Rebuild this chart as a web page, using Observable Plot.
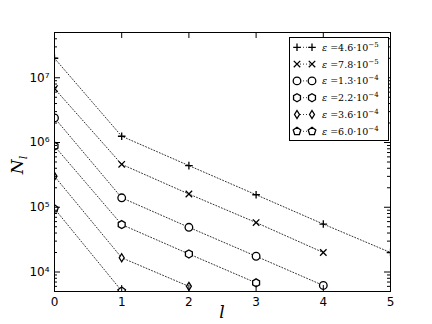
<!DOCTYPE html>
<html><head><meta charset="utf-8">
<script src="https://cdn.jsdelivr.net/npm/d3@7"></script>
<script src="https://cdn.jsdelivr.net/npm/@observablehq/plot@0.6"></script>
<style>body{margin:0;background:#fff}#c{width:432px;height:324px}</style>
</head><body><div id="c"></div>
<script>
// ---- data ----
const levels = [0, 1, 2, 3, 4, 5];
const epsMant = ["4.6", "7.8", "1.3", "2.2", "3.6", "6.0"];
const epsExp = ["5", "5", "4", "4", "4", "4"];
const N1 = [2.0e7, 1.25e6, 4.4e5, 1.56e5, 5.5e4, 2.0e4];
const N2 = [6.8e6, 4.6e5, 1.6e5, 5.8e4, 2.0e4];
const N3 = [2.4e6, 1.4e5, 4.9e4, 1.75e4, 6.2e3];
const N4 = [8.8e5, 5.4e4, 1.9e4, 6.8e3];
const N5 = [3.0e5, 1.66e4, 6.0e3];
const N6 = [9.5e4, 5.1e3];
const yMajor = [1e4, 1e5, 1e6, 1e7];
const yLabels = ["10\u2074", "10\u2075", "10\u2076", "10\u2077"];
const minorMult = [2, 3, 4, 5, 6, 7, 8, 9];
const minorDecades = [1e3, 1e4, 1e5, 1e6, 1e7];
const xTicks = [0, 1, 2, 3, 4, 5];

const series = [N1, N2, N3, N4, N5, N6];

// custom symbols (stroke-only cross shapes + closed polygons)
const R = 3.8; // marker radius in px
function poly(n, rot, sx) {
  return {draw(ctx, size) {
    const r = Math.sqrt(size / Math.PI) * 1.05;
    for (let i = 0; i < n; i++) {
      const a = rot + i * 2 * Math.PI / n;
      const x = r * Math.cos(a) * sx, y = r * Math.sin(a);
      i ? ctx.lineTo(x, y) : ctx.moveTo(x, y);
    }
    ctx.closePath();
  }};
}
const plusSym = {draw(ctx, size) { const r = Math.sqrt(size / Math.PI);
  ctx.moveTo(-r, 0); ctx.lineTo(r, 0); ctx.moveTo(0, -r); ctx.lineTo(0, r); }};
const timesSym = {draw(ctx, size) { const r = Math.sqrt(size / Math.PI) * 0.85;
  ctx.moveTo(-r, -r); ctx.lineTo(r, r); ctx.moveTo(-r, r); ctx.lineTo(r, -r); }};
const circleSym = {draw(ctx, size) { const r = Math.sqrt(size / Math.PI);
  ctx.moveTo(r, 0); ctx.arc(0, 0, r, 0, 2 * Math.PI); }};
const hexagon = poly(6, -Math.PI / 2, 1);
const thinDiamond = poly(4, -Math.PI / 2, 0.62);
const pentagon = poly(5, -Math.PI / 2, 1);
const symbols = [plusSym, timesSym, circleSym, hexagon, thinDiamond, pentagon];
const fills = ["none", "none", "white", "white", "white", "white"];

const rows = series.flatMap((arr, s) => arr.map((v, i) => ({s, l: levels[i], N: v})));
const minors = minorDecades.flatMap(d => minorMult.map(m => m * d)).filter(v => v >= 5e3 && v <= 5e7);

const W = 432, H = 324, mL = 54, mR = 42, mT = 32, mB = 33;
const pw = W - mL - mR, ph = H - mT - mB;

const chart = Plot.plot({
  width: W, height: H,
  marginLeft: mL, marginRight: mR, marginTop: mT, marginBottom: mB,
  style: {fontFamily: "DejaVu Sans", fontSize: "12px", background: "white", color: "black"},
  x: {domain: [0, 5]},
  y: {type: "log", domain: [5e3, 5e7]},
  marks: [
    Plot.line(rows, {x: "l", y: "N", z: "s", stroke: "#333", strokeWidth: 1, strokeDasharray: "1,2", clip: "frame"}),
    ...series.map((arr, s) => Plot.dot(arr.map((v, i) => ({l: levels[i], N: v})), {
      x: "l", y: "N", symbol: symbols[s], r: R,
      stroke: "black", fill: fills[s], strokeWidth: 1.3, clip: "frame"
    })),
    // inward ticks
    Plot.tickY(yMajor, {y: d => d, insetRight: pw - 6, stroke: "black"}),
    Plot.tickY(yMajor, {y: d => d, insetLeft: pw - 6, stroke: "black"}),
    Plot.tickY(minors, {y: d => d, insetRight: pw - 3, stroke: "black"}),
    Plot.tickY(minors, {y: d => d, insetLeft: pw - 3, stroke: "black"}),
    Plot.tickX(xTicks, {x: d => d, insetTop: ph - 6, stroke: "black"}),
    Plot.tickX(xTicks, {x: d => d, insetBottom: ph - 6, stroke: "black"}),
    Plot.frame({stroke: "black", strokeWidth: 1}),
    Plot.axisY({ticks: yMajor, tickSize: 0, tickPadding: 5, tickFormat: d => yLabels[yMajor.indexOf(d)], label: null}),
    Plot.axisX({ticks: xTicks, tickSize: 0, tickPadding: 6, tickFormat: d => String(d), label: null})
  ]
});
document.getElementById("c").appendChild(chart);

// axis labels and legend
const svg = d3.select(chart);
const yl = svg.append("text").attr("transform", "translate(23,165) rotate(-90)")
  .attr("text-anchor", "middle").attr("font-family", "DejaVu Serif").attr("font-style", "italic")
  .attr("font-size", 17).attr("fill", "black");
yl.append("tspan").text("N");
yl.append("tspan").attr("font-size", 11).attr("dy", 4).text("l");

svg.append("text").attr("x", 222).attr("y", 318).attr("text-anchor", "middle")
  .attr("font-family", "DejaVu Serif").attr("font-style", "italic").attr("font-size", 17)
  .attr("fill", "black").text("l");

const lg = svg.append("g");
lg.append("rect").attr("x", 289.5).attr("y", 37.5).attr("width", 99).attr("height", 103)
  .attr("fill", "white").attr("stroke", "black").attr("stroke-width", 1);
symbols.forEach((sym, i) => {
  const cy = 47.3 + i * 16.8;
  lg.append("line").attr("x1", 297).attr("x2", 312).attr("y1", cy).attr("y2", cy)
    .attr("stroke", "#333").attr("stroke-dasharray", "1,2");
  const path = d3.symbol(sym, Math.PI * R * R)();
  [297, 312].forEach(cx => lg.append("path").attr("d", path)
    .attr("transform", `translate(${cx},${cy})`).attr("fill", fills[i]).attr("stroke", "black").attr("stroke-width", 1.3));
  const t = lg.append("text").attr("x", 322).attr("y", cy + 3.5).attr("text-anchor", "start")
    .attr("font-family", "DejaVu Serif").attr("font-size", 9.5).attr("fill", "black");
  t.append("tspan").attr("font-style", "italic").text("\u03b5");
  t.append("tspan").text(" =" + epsMant[i] + "\u00b7" + "10");
  t.append("tspan").attr("font-size", 7).attr("dy", -4).text("\u2212" + epsExp[i]);
});
</script>
</body></html>
